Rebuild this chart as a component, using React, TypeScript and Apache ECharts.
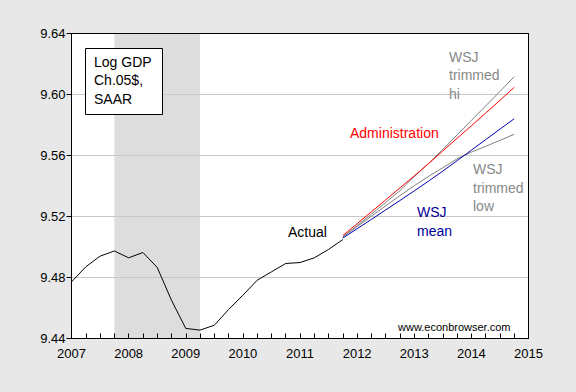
import React, { useEffect, useRef } from "react";
import * as echarts from "echarts";

const actualQuarters = [
  "2007Q1", "2007Q2", "2007Q3", "2007Q4",
  "2008Q1", "2008Q2", "2008Q3", "2008Q4",
  "2009Q1", "2009Q2", "2009Q3", "2009Q4",
  "2010Q1", "2010Q2", "2010Q3", "2010Q4",
  "2011Q1", "2011Q2", "2011Q3", "2011Q4",
];
const actualValues = [
  9.4771, 9.487, 9.494, 9.4974,
  9.4929, 9.4964, 9.4866, 9.4651,
  9.4466, 9.4455, 9.4487, 9.459,
  9.4684, 9.4782, 9.4837, 9.4892,
  9.4898, 9.4929, 9.4984, 9.5049,
];

const forecastQuarters = [
  "2011Q4",
  "2012Q1", "2012Q2", "2012Q3", "2012Q4",
  "2013Q1", "2013Q2", "2013Q3", "2013Q4",
  "2014Q1", "2014Q2", "2014Q3", "2014Q4",
];
const adminValues = [
  9.5075, 9.5153, 9.5231, 9.5309, 9.5388, 9.5466, 9.5547, 9.563, 9.5713,
  9.5795, 9.5878, 9.5962, 9.6047,
];
const wsjHiValues = [
  9.5066, 9.514, 9.5216, 9.5292, 9.537, 9.5462, 9.5548, 9.564, 9.5735,
  9.583, 9.5925, 9.602, 9.6117,
];
const wsjMeanValues = [
  9.5059, 9.512, 9.5181, 9.5243, 9.5305, 9.5368, 9.5432, 9.5498, 9.5566,
  9.5635, 9.5704, 9.5773, 9.5841,
];
const wsjLowValues = [
  9.5066, 9.5134, 9.5202, 9.527, 9.5337, 9.5402, 9.5463, 9.552, 9.5578,
  9.5622, 9.566, 9.5699, 9.5739,
];

const recessionStart = "2007Q4";
const recessionEnd = "2009Q2";

const qToX = (q: string) => {
  const y = Number(q.slice(0, 4));
  const n = Number(q.slice(5));
  return y + (n - 1) / 4;
};
const pairs = (qs: string[], vs: number[]) => qs.map((q, i) => [qToX(q), vs[i]]);

const FONT = "'Liberation Sans', Arial, sans-serif";

export default function App() {
  const ref = useRef<HTMLDivElement>(null);
  useEffect(() => {
    if (!ref.current) return;
    const chart = echarts.init(ref.current, null, { renderer: "svg" });
    const black = { color: "#000", width: 1 };
    const line = (name: string, data: number[][], color: string) => ({
      name,
      type: "line",
      data,
      showSymbol: false,
      symbol: "none",
      lineStyle: { color, width: 1 },
      itemStyle: { color },
      z: 2,
    });
    const txt = (
      text: string,
      x: number,
      y: number,
      fill: string,
      fontSize = 14,
      lineHeight = 18.7
    ) => ({
      type: "text",
      x,
      y,
      z: 20,
      style: {
        text,
        fill,
        fontSize,
        fontFamily: FONT,
        lineHeight,
        verticalAlign: "top",
        align: "left",
      },
    });
    chart.setOption({
      animation: false,
      backgroundColor: "#e8e8e8",
      textStyle: { fontFamily: FONT },
      grid: {
        left: 71.5,
        right: 47.5,
        top: 33.5,
        bottom: 53.5,
        show: true,
        backgroundColor: "#ffffff",
        borderWidth: 0,
        z: -10,
      },
      xAxis: [
        {
          type: "value",
          min: 2007,
          max: 2015,
          interval: 1,
          axisLine: { show: true, onZero: false, lineStyle: black },
          axisTick: { show: true, inside: true, length: 5, lineStyle: black },
          minorTick: { show: true, splitNumber: 4, length: 5, lineStyle: black },
          axisLabel: {
            color: "#000",
            fontSize: 13,
            margin: 8,
            fontFamily: FONT,
            formatter: (v: number) => String(Math.round(v)),
          },
          splitLine: { show: false },
        },
        {
          type: "value",
          position: "top",
          min: 2007,
          max: 2015,
          interval: 1,
          axisLine: { show: true, onZero: false, lineStyle: black },
          axisTick: { show: false },
          axisLabel: { show: false },
          splitLine: { show: false },
        },
      ],
      yAxis: [
        {
          type: "value",
          min: 9.44,
          max: 9.64,
          interval: 0.04,
          axisLine: { show: true, onZero: false, lineStyle: black },
          axisTick: { show: true, length: 5, lineStyle: black },
          axisLabel: {
            color: "#000",
            fontSize: 13,
            margin: 6,
            fontFamily: FONT,
            formatter: (v: number) => v.toFixed(2),
          },
          splitLine: { show: true, lineStyle: { color: "#c8c8c8", width: 1 } },
        },
        {
          type: "value",
          position: "right",
          min: 9.44,
          max: 9.64,
          interval: 0.04,
          axisLine: { show: true, onZero: false, lineStyle: black },
          axisTick: { show: false },
          axisLabel: { show: false },
          splitLine: { show: false },
        },
      ],
      series: [
        {
          name: "recession",
          type: "line",
          data: [],
          z: -5,
          markArea: {
            silent: true,
            z: -5,
            itemStyle: { color: "#dddddd" },
            data: [[{ xAxis: qToX(recessionStart) }, { xAxis: qToX(recessionEnd) }]],
          },
        },
        line("Actual", pairs(actualQuarters, actualValues), "#000000"),
        line("WSJ trimmed low", pairs(forecastQuarters, wsjLowValues), "#808080"),
        line("WSJ trimmed hi", pairs(forecastQuarters, wsjHiValues), "#808080"),
        line("WSJ mean", pairs(forecastQuarters, wsjMeanValues), "#0000b0"),
        line("Administration", pairs(forecastQuarters, adminValues), "#ff0000"),
      ],
      graphic: [
        {
          type: "rect",
          z: 19,
          shape: { x: 85.5, y: 48.5, width: 77, height: 66 },
          style: { fill: "#ffffff", stroke: "#000000", lineWidth: 1 },
        },
        txt("Log GDP\nCh.05$,\nSAAR", 94, 52.6, "#000", 14, 18.5),
        txt("WSJ\ntrimmed\nhi", 449, 47.3, "#888888"),
        txt("WSJ\ntrimmed\nlow", 473, 159.7, "#888888"),
        txt("WSJ\nmean", 417, 202.8, "#00009a", 14, 19),
        txt("Administration", 350, 124, "#ff0000"),
        txt("Actual", 288, 223, "#000000"),
        txt("www.econbrowser.com", 398, 320.5, "#000000", 11, 13),
      ],
    });
    return () => chart.dispose();
  }, []);
  return (
    <div
      ref={ref}
      style={{ position: "fixed", left: 0, top: 0, width: 576, height: 392 }}
    />
  );
}
